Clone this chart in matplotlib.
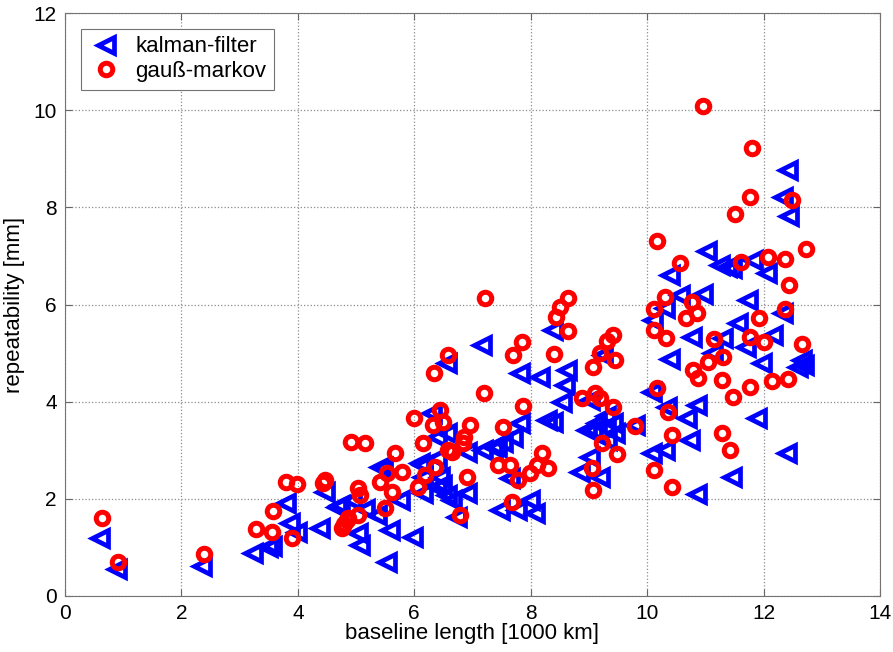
import matplotlib
matplotlib.use('Agg')
import matplotlib.pyplot as plt
import numpy as np

plt.rcParams['font.family'] = ['Liberation Sans', 'DejaVu Sans']

# kalman-filter: baseline length [1000 km], repeatability [mm]
kf_x = [0.60, 0.89, 2.35, 3.23, 3.49, 3.56, 3.80, 3.87, 3.99, 4.38,
        4.47, 4.67, 4.73, 4.93, 5.03, 5.07, 5.36, 5.58, 5.53, 5.41,
        5.76, 5.98, 6.10, 6.15, 6.31, 6.48, 6.65, 6.39, 6.15, 6.39,
        6.56, 6.91, 6.74, 7.47, 7.77, 8.08, 7.99, 7.65, 8.85, 9.19,
        6.15, 6.39, 6.91, 7.18, 7.42, 5.46, 6.44, 5.15,
        7.16, 6.56, 7.82, 8.16, 8.63, 8.59, 8.54, 8.38, 8.28, 8.38,
        7.82, 7.70, 7.53, 7.35, 6.56, 9.02, 9.07, 9.14, 9.42, 9.31,
        9.02, 8.97, 9.79, 9.25, 9.30, 9.45,
        12.42, 12.34, 12.44, 11.03, 11.25, 11.37, 11.46, 11.82, 12.06, 10.40,
        10.57, 10.96, 11.74, 10.10, 10.31, 11.56, 12.16, 12.34, 10.77, 11.31,
        11.70, 10.40, 11.13, 11.98, 12.66, 12.70, 12.60, 10.09, 10.34, 10.86,
        10.69, 11.89, 10.74, 10.09, 10.31, 11.46, 10.86, 12.41]
kf_y = [1.19, 0.56, 0.61, 0.88, 1.01, 1.03, 1.91, 1.50, 1.32, 1.40,
        2.14, 1.83, 1.87, 1.98, 1.30, 1.06, 1.67, 1.36, 0.70, 2.65,
        1.98, 1.21, 2.74, 2.45, 3.77, 2.28, 1.98, 3.27, 2.12, 2.24,
        2.08, 2.12, 1.63, 1.77, 1.77, 1.71, 1.98, 2.43, 2.55, 2.45,
        2.70, 2.84, 2.96, 3.00, 3.07, 2.65, 2.45, 1.80,
        5.16, 4.79, 4.59, 4.51, 4.65, 4.34, 3.99, 5.47, 3.62, 3.58,
        3.56, 3.27, 3.17, 3.07, 3.35, 4.03, 3.42, 3.56, 3.56, 3.21,
        2.86, 3.42, 3.52, 4.96, 3.70, 3.35,
        8.77, 8.21, 7.82, 7.10, 6.81, 6.77, 6.75, 6.91, 6.65, 6.60,
        6.19, 6.21, 6.09, 5.68, 5.93, 5.62, 5.37, 5.82, 5.33, 5.31,
        5.12, 4.88, 5.00, 4.79, 4.86, 4.75, 4.72, 4.20, 3.89, 3.93,
        3.66, 3.66, 3.21, 2.94, 3.00, 2.45, 2.10, 2.94]

# gauss-markov
gm_x = [0.64, 0.91, 2.39, 3.28, 3.56, 3.57, 3.90, 3.80, 3.99, 4.43,
        4.47, 4.91, 5.15, 5.03, 5.07, 5.03, 4.84, 4.76, 4.86, 4.80,
        5.50, 5.62, 5.41, 5.53, 5.79, 5.67, 6.07, 6.19, 6.36, 6.91,
        6.79, 6.58, 6.65, 6.84, 6.15, 7.44, 7.65, 7.78, 7.68, 7.99,
        8.11, 8.19, 8.30, 6.00, 6.32, 6.44, 6.49, 6.86, 6.96, 7.53,
        7.22, 7.85, 7.70, 8.40, 8.64, 8.50, 8.44, 8.64, 6.58, 6.34,
        7.20, 7.87, 9.07, 9.31, 9.42, 9.19, 9.45, 8.88, 9.11, 9.19,
        9.42, 9.22, 9.48, 9.05, 9.07, 9.79,
        10.96, 11.80, 11.77, 11.51, 12.49, 10.17, 10.57, 11.62, 12.08, 12.37,
        12.73, 12.44, 10.31, 10.12, 10.77, 10.86, 10.67, 10.12, 10.33, 11.92,
        12.37, 11.15, 11.77, 12.01, 12.66, 11.31, 11.05, 10.79, 10.88, 11.29,
        11.48, 11.77, 12.15, 12.42, 10.17, 10.36, 10.43, 10.12, 10.43, 11.29,
        11.43]
gm_y = [1.60, 0.70, 0.86, 1.38, 1.32, 1.75, 1.20, 2.35, 2.30, 2.32,
        2.39, 3.17, 3.15, 2.22, 2.08, 1.67, 1.56, 1.40, 1.60, 1.48,
        1.81, 2.14, 2.35, 2.53, 2.55, 2.94, 2.24, 2.49, 2.65, 2.45,
        1.67, 3.00, 2.96, 3.15, 3.15, 2.70, 2.70, 2.39, 1.93, 2.53,
        2.70, 2.94, 2.63, 3.66, 3.52, 3.83, 3.58, 3.27, 3.52, 3.48,
        6.13, 5.23, 4.96, 4.98, 6.13, 5.95, 5.74, 5.45, 4.96, 4.59,
        4.18, 3.91, 4.71, 5.25, 5.37, 5.00, 4.86, 4.07, 4.18, 4.07,
        3.89, 3.15, 2.92, 2.63, 2.18, 3.50,
        10.08, 9.22, 8.21, 7.86, 8.15, 7.30, 6.85, 6.87, 6.98, 6.93,
        7.14, 6.40, 6.15, 5.91, 6.05, 5.82, 5.72, 5.47, 5.31, 5.72,
        5.91, 5.29, 5.33, 5.23, 5.19, 4.92, 4.81, 4.65, 4.49, 4.44,
        4.09, 4.30, 4.42, 4.46, 4.28, 3.79, 3.31, 2.59, 2.24, 3.35,
        3.00]

fig = plt.figure(figsize=(8.93, 6.52), dpi=100)
ax = fig.add_axes([0.0728, 0.0859, 0.9126, 0.894])

ax.plot(kf_x, kf_y, '<', ms=11, mfc='none', mec='#0000ff', mew=3.4,
        label='kalman-filter')
ax.plot(gm_x, gm_y, 'o', ms=9, mfc='none', mec='#ff0000', mew=3.6,
        label='gauß-markov')

ax.set_xlim(0, 14)
ax.set_ylim(0, 12)
ax.set_xticks(np.arange(0, 15, 2))
ax.set_yticks(np.arange(0, 13, 2))
ax.grid(True, linestyle=':', color='0.55', linewidth=0.9)
ax.tick_params(direction='in', top=True, right=True, labelsize=15,
               color='0.4', length=5, pad=6)
for s in ax.spines.values():
    s.set_color('0.45')

ax.set_xlabel('baseline length [1000 km]', fontsize=16, labelpad=0)
ax.set_ylabel('repeatability [mm]', fontsize=16, labelpad=6)

leg = ax.legend(loc='upper left', numpoints=1, fontsize=16, fancybox=False,
                edgecolor='0.45', framealpha=1, borderaxespad=0.7,
                handletextpad=0.5, handlelength=1.6, borderpad=0.35,
                labelspacing=0.15)
leg.get_frame().set_linewidth(0.8)

fig.savefig('out.png', dpi=100)
